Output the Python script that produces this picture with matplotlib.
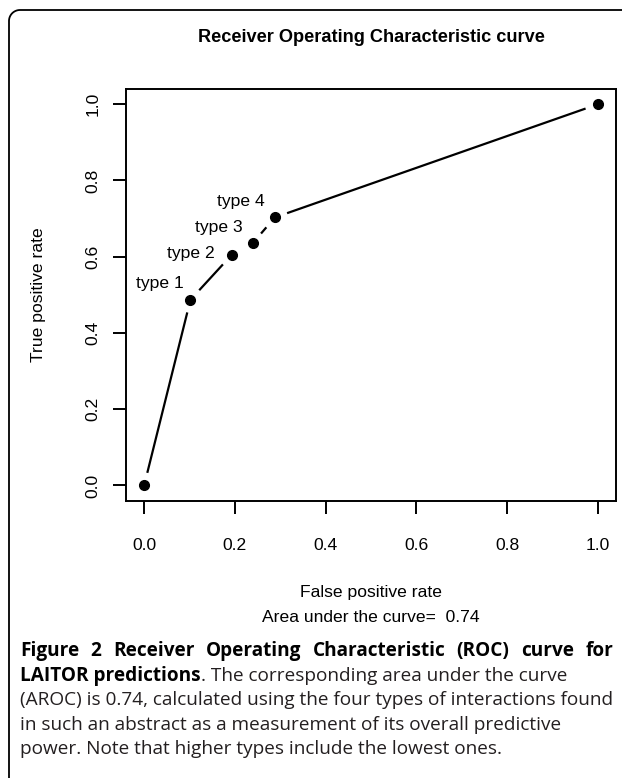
import numpy as np
import matplotlib.pyplot as plt
from matplotlib.lines import Line2D
from matplotlib.transforms import IdentityTransform

# ROC points
fpr = [0.0, 0.102, 0.193, 0.239, 0.288, 1.0]
tpr = [0.0, 0.487, 0.605, 0.635, 0.703, 1.0]
point_labels = ["", "type 1", "type 2", "type 3", "type 4", ""]
label_offsets = [(0, 0), (-4.8, 11.5), (-12.5, 0.7), (-7.2, 11.1), (-7.5, 11.5), (0, 0)]
ticks = [0.0, 0.2, 0.4, 0.6, 0.8, 1.0]
auc = 0.74

title = "Receiver Operating Characteristic curve"
xlabel = "False positive rate"
ylabel = "True positive rate"

caption_bold_1 = "Figure 2 Receiver Operating Characteristic (ROC) curve for"
caption_bold_2 = "LAITOR predictions"
caption_rest_2 = ". The corresponding area under the curve"
caption_lines = [
    "(AROC) is 0.74, calculated using the four types of interactions found",
    "in such an abstract as a measurement of its overall predictive",
    "power. Note that higher types include the lowest ones.",
]

W, H = 622, 778
plt.rcParams["font.family"] = ["Liberation Sans", "DejaVu Sans"]
fig = plt.figure(figsize=(W / 100, H / 100), dpi=100)

def fx(px):
    return px / W

def fy(py):
    return 1 - py / H

# axes box in pixel coords (left, top, right, bottom)
L, T, R, B = 126, 89, 616, 500.7
ax = fig.add_axes([fx(L), fy(B), (R - L) / W, (B - T) / H])
ax.set_xlim(-0.04, 1.04)
ax.set_ylim(-0.04, 1.04)
for s in ax.spines.values():
    s.set_linewidth(1.4)
ax.set_xticks(ticks)
ax.set_yticks(ticks)
ax.set_xticklabels([f"{t:.1f}" for t in ticks])
ax.set_yticklabels([f"{t:.1f}" for t in ticks], rotation=90, va="center")
ax.tick_params(axis="x", length=9, width=1.4, pad=17.5, labelsize=12.6)
ax.tick_params(axis="y", length=9.4, width=1.4, pad=9, labelsize=12.6)

# points
ax.plot(fpr, tpr, "o", color="black", markersize=7, zorder=3)

# R style type="b": segments with gaps around the points
pts = ax.transData.transform(np.column_stack([fpr, tpr]))
gap = 13
inv = ax.transData.inverted()
for p, q in zip(pts[:-1], pts[1:]):
    d = q - p
    dist = np.hypot(*d)
    if dist <= 2 * gap:
        continue
    u = d / dist
    seg = inv.transform([p + u * gap, q - u * gap])
    ax.plot(seg[:, 0], seg[:, 1], color="black", lw=1.6, solid_capstyle="butt")

for x, y, lab, off in zip(fpr, tpr, point_labels, label_offsets):
    if lab:
        ax.annotate(lab, (x, y), xytext=off, textcoords="offset points",
                    ha="right", va="center", fontsize=12.6)

# titles and labels
fig.text(fx(371.5), fy(37), title, ha="center", va="center", fontsize=13.1, fontweight="bold")
fig.text(fx(38.3), fy((T + B) / 2), ylabel, rotation=90, ha="center", va="center", fontsize=12.6)
fig.text(fx(371), fy(593), xlabel, ha="center", va="center", fontsize=12.6)
fig.text(fx(371), fy(617), f"Area under the curve=  {auc}", ha="center", va="center", fontsize=12.6)

# frame: left and top edges only, rounded top-left corner (pixel coords, y up)
r = 11
fl, ft = 9, H - 10
ang = np.linspace(np.pi, np.pi / 2, 20)
frame_x = np.concatenate([[fl], fl + r + r * np.cos(ang), [W + 10]])
frame_y = np.concatenate([[-10], ft - r + r * np.sin(ang), [ft]])
fig.add_artist(Line2D(frame_x, frame_y, transform=IdentityTransform(), color="black", lw=1.3))

# caption
cap_font = "Open Sans"
cap_x0, cap_x1 = 20, 613
renderer = fig.canvas.get_renderer()

def width_px(txt):
    return txt.get_window_extent(renderer).width

probe = fig.text(0, 0, caption_lines[0], fontsize=12, family=cap_font)
cap_size = 12 * (cap_x1 - 1 - cap_x0) / width_px(probe)
probe.remove()

line_y = [651, 676, 700, 725, 749]
cap_gray = "#231f20"

# line 1: bold, justified
words = caption_bold_1.split()
objs = [fig.text(0, fy(line_y[0]), w, fontsize=cap_size, family=cap_font,
                 fontweight="bold", va="center") for w in words]
widths = [width_px(o) for o in objs]
space = (cap_x1 - cap_x0 - sum(widths)) / (len(words) - 1)
xpos = cap_x0
for o, w in zip(objs, widths):
    o.set_x(fx(xpos))
    xpos += w + space

# line 2: bold run then regular
t_b = fig.text(fx(cap_x0), fy(line_y[1]), caption_bold_2, fontsize=cap_size, family=cap_font,
               fontweight="bold", va="center")
fig.text(fx(cap_x0 + width_px(t_b)), fy(line_y[1]), caption_rest_2, fontsize=cap_size,
         family=cap_font, va="center", color=cap_gray)

for yy, line in zip(line_y[2:], caption_lines):
    fig.text(fx(cap_x0), fy(yy), line, fontsize=cap_size, family=cap_font, va="center", color=cap_gray)

fig.savefig("out.png", dpi=100)
